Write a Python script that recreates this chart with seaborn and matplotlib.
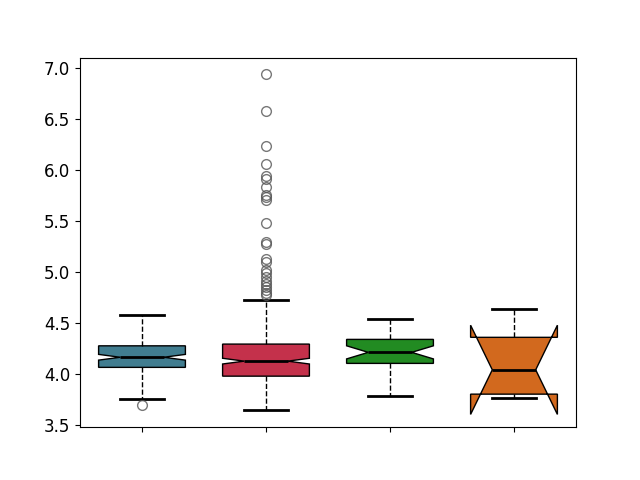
import numpy as np
import pandas as pd
import matplotlib
matplotlib.use("Agg")
import matplotlib.pyplot as plt
import seaborn as sns

# distinct values, with how many samples sit at each
teal_vals = [3.70, 3.755, 4.066, 4.165, 4.277, 4.578]
teal_counts = [1, 1, 34, 66, 35, 2]

red_vals = [3.647, 3.98, 4.127, 4.294, 4.725]
red_counts = [1, 100, 100, 84, 1]
red_outliers = [6.94, 6.578, 6.238, 6.056, 5.941, 5.912, 5.836, 5.755, 5.735,
                5.706, 5.483, 5.294, 5.275, 5.127, 5.098, 5.02, 4.99, 4.95,
                4.91, 4.88, 4.85, 4.82, 4.79, 4.775]

green_vals = [3.79, 4.105, 4.213, 4.34, 4.536]
green_counts = [1, 10, 10, 10, 2]

orange_vals = [3.77, 3.815, 4.269, 4.634]

colors = ["#417d90", "#c4314b", "#228b22", "#d2691e"]

groups = [
    np.repeat(teal_vals, teal_counts),
    np.concatenate([np.repeat(red_vals, red_counts), red_outliers]),
    np.repeat(green_vals, green_counts),
    np.array(orange_vals),
]

df = pd.DataFrame({
    "group": np.concatenate([[i] * len(g) for i, g in enumerate(groups)]),
    "value": np.concatenate(groups),
})

fig, ax = plt.subplots(figsize=(6.4, 4.8), dpi=100)
sns.boxplot(
    data=df, x="group", y="value", hue="group", palette=colors,
    saturation=1, legend=False, notch=True, width=0.7,
    linecolor="black", linewidth=1,
    whiskerprops=dict(linestyle="--", linewidth=1),
    capprops=dict(linewidth=2),
    medianprops=dict(linewidth=2),
    flierprops=dict(marker="o", markerfacecolor="none",
                    markeredgecolor="#555555", alpha=0.8, markersize=7),
    ax=ax,
)
ax.set_xticks(range(4))
ax.set_xticklabels([])
ax.set_xlabel("")
ax.set_ylabel("")
ax.set_xlim(-0.5, 3.5)
ax.set_ylim(3.48, 7.1)
ax.tick_params(axis="y", labelsize=12)

fig.savefig("out.png", dpi=100)
